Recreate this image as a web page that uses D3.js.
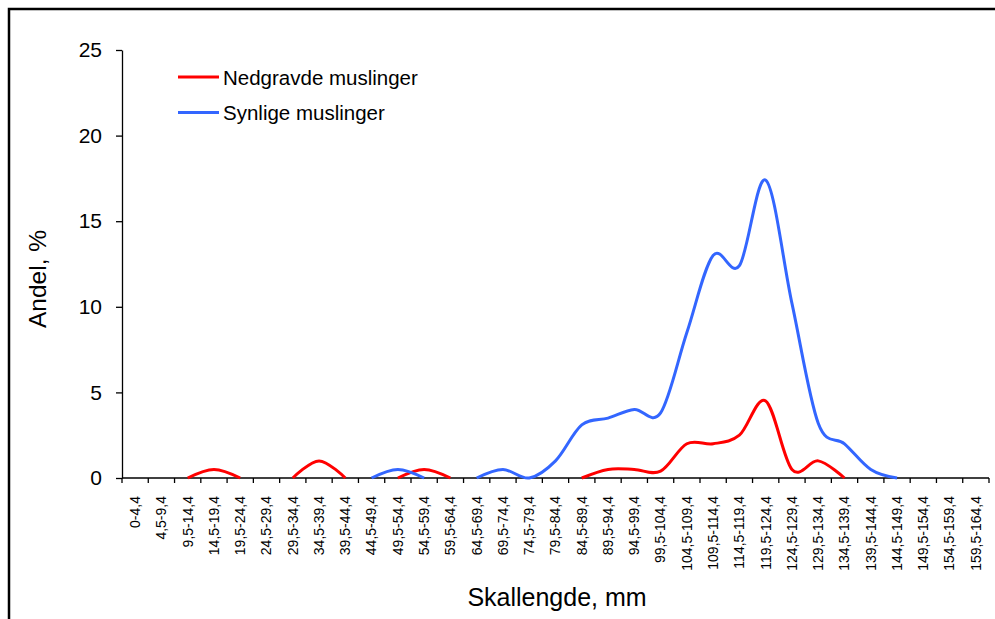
<!DOCTYPE html>
<html>
<head>
<meta charset="utf-8">
<script src="https://cdn.jsdelivr.net/npm/d3@7"></script>
<style>
  body { margin: 0; background: #fff; }
  svg { display: block; font-family: Arial, "Liberation Sans", sans-serif; }
</style>
</head>
<body>
<div id="app"></div>
<script>
const WIDTH = 995;
const HEIGHT = 619;

// size classes (mm)
const categories = [
  '0-4,4', '4,5-9,4', '9,5-14,4', '14,5-19,4', '19,5-24,4', '24,5-29,4', '29,5-34,4',
  '34,5-39,4', '39,5-44,4', '44,5-49,4', '49,5-54,4', '54,5-59,4', '59,5-64,4',
  '64,5-69,4', '69,5-74,4', '74,5-79,4', '79,5-84,4', '84,5-89,4', '89,5-94,4',
  '94,5-99,4', '99,5-104,4', '104,5-109,4', '109,5-114,4', '114,5-119,4',
  '119,5-124,4', '124,5-129,4', '129,5-134,4', '134,5-139,4', '139,5-144,4',
  '144,5-149,4', '149,5-154,4', '154,5-159,4', '159,5-164,4'
];

// empty cells = null (gap in line)
const nedgravde = [
  null, null, 0, 0.5, 0, null, 0, 1, 0, null, 0, 0.5, 0, null, null, null, null,
  0, 0.5, 0.5, 0.4, 2, 2, 2.5, 4.5, 0.5, 1, 0, null, null, null, null, null
];
const synlige = [
  null, null, null, null, null, null, null, null, null, 0, 0.5, 0, null, 0, 0.5, 0,
  1, 3.1, 3.5, 4, 3.8, 8.5, 13, 12.4, 17.4, 10.2, 3.2, 2, 0.5, 0, null, null, null
];

const yTicks = [0, 5, 10, 15, 20, 25];

const series = [
  { name: 'Nedgravde muslinger', values: nedgravde, color: '#ff0000' },
  { name: 'Synlige muslinger', values: synlige, color: '#3366ff' }
];

const svg = d3.select('#app')
  .append('svg')
  .attr('width', WIDTH)
  .attr('height', HEIGHT);

// chart frame (Excel border)
svg.append('rect')
  .attr('x', 9)
  .attr('y', 9)
  .attr('width', WIDTH + 20)
  .attr('height', HEIGHT + 20)
  .attr('fill', 'none')
  .attr('stroke', '#000')
  .attr('stroke-width', 2.5);

const x = d3.scaleBand()
  .domain(categories)
  .range([122, 989]);

const y = d3.scaleLinear()
  .domain([0, 25])
  .range([478, 50]);

// y axis
const yAxis = svg.append('g')
  .attr('transform', `translate(${x.range()[0]},0)`)
  .call(d3.axisLeft(y).tickValues(yTicks).tickSize(6).tickSizeOuter(0).tickPadding(14));

yAxis.select('.domain').attr('stroke', '#000').attr('stroke-width', 1.3);
yAxis.selectAll('.tick line').attr('stroke', '#000').attr('stroke-width', 1.3);
yAxis.selectAll('.tick text')
  .attr('fill', '#000')
  .style('font-size', '21px')
  .style('font-family', 'Arial, "Liberation Sans", sans-serif');

// x axis: labels centred in bands, ticks on band boundaries
const xAxis = svg.append('g')
  .attr('transform', `translate(0,${y(0)})`);

xAxis.append('line')
  .attr('x1', x.range()[0])
  .attr('x2', x.range()[1])
  .attr('stroke', '#000')
  .attr('stroke-width', 1.5);

const boundaries = categories.map(c => x(c)).concat([x.range()[1]]);
xAxis.selectAll('line.tick')
  .data(boundaries)
  .enter()
  .append('line')
  .attr('class', 'tick')
  .attr('x1', d => d)
  .attr('x2', d => d)
  .attr('y1', 0)
  .attr('y2', 5)
  .attr('stroke', '#000')
  .attr('stroke-width', 1.3);

xAxis.selectAll('text')
  .data(categories)
  .enter()
  .append('text')
  .attr('transform', d => `translate(${x(d) + x.bandwidth() / 2},18) rotate(-90)`)
  .attr('text-anchor', 'end')
  .attr('dy', '0.35em')
  .style('font-size', '14px')
  .text(d => d);

// lines
const line = d3.line()
  .defined(d => d.v != null)
  .x(d => x(d.c) + x.bandwidth() / 2)
  .y(d => y(d.v))
  .curve(d3.curveCardinal.tension(0));

svg.append('g')
  .selectAll('path')
  .data(series)
  .enter()
  .append('path')
  .attr('fill', 'none')
  .attr('stroke', d => d.color)
  .attr('stroke-width', 3)
  .attr('stroke-linejoin', 'round')
  .attr('d', d => line(categories.map((c, i) => ({ c, v: d.values[i] }))));

// legend
const legend = svg.append('g');
const legendRows = legend.selectAll('g')
  .data(series)
  .enter()
  .append('g')
  .attr('transform', (d, i) => `translate(178,${77 + i * 35.5})`);

legendRows.append('line')
  .attr('x1', 0)
  .attr('x2', 41)
  .attr('stroke', d => d.color)
  .attr('stroke-width', 3);

legendRows.append('text')
  .attr('x', 45)
  .attr('y', 7.5)
  .style('font-size', '20.5px')
  .text(d => d.name);

// axis titles
svg.append('text')
  .attr('x', 557)
  .attr('y', 606)
  .attr('text-anchor', 'middle')
  .style('font-size', '25px')
  .text('Skallengde, mm');

svg.append('text')
  .attr('transform', 'translate(46,279) rotate(-90)')
  .attr('text-anchor', 'middle')
  .style('font-size', '24.5px')
  .text('Andel, %');
</script>
</body>
</html>
